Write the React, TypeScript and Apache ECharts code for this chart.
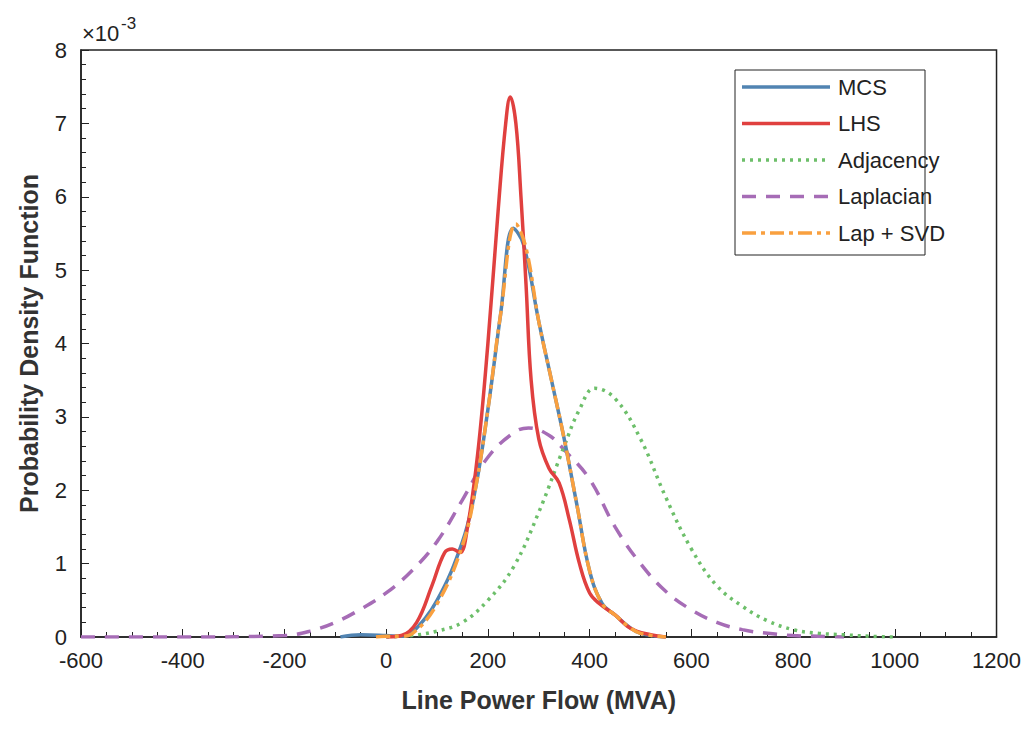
import React, { useEffect, useRef } from "react";
import * as echarts from "echarts";

const mcs: [number, number][] = [[-90,0],[-50,0.03],[0,0.02],[30,0.01],[50,0.05],[100,0.5],[150,1.3],[175,2.0],[200,3.1],[225,4.4],[250,5.57],[270,5.35],[300,4.3],[325,3.5],[350,2.7],[375,1.8],[400,0.9],[425,0.45],[450,0.3],[475,0.15],[500,0.05],[550,0]];
const lhs: [number, number][] = [[0,0],[30,0.02],[60,0.2],[90,0.7],[115,1.15],[130,1.2],[145,1.15],[160,1.5],[180,2.5],[200,4.0],[220,5.8],[235,7.0],[244,7.36],[255,7.0],[265,6.0],[275,4.8],[285,3.5],[300,2.7],[320,2.3],[340,2.1],[360,1.6],[380,1.0],[400,0.6],[420,0.45],[450,0.3],[480,0.12],[520,0.03],[550,0]];
const adjacency: [number, number][] = [[0,0],[50,0.02],[100,0.08],[150,0.2],[200,0.5],[250,0.95],[300,1.7],[350,2.6],[380,3.1],[410,3.39],[450,3.25],[500,2.7],[550,1.9],[600,1.2],[650,0.7],[700,0.42],[750,0.22],[800,0.1],[850,0.05],[900,0.03],[950,0.01],[1000,0]];
const laplacian: [number, number][] = [[-600,0],[-400,0],[-200,0.02],[-150,0.08],[-100,0.2],[-50,0.38],[0,0.6],[50,0.9],[100,1.3],[150,1.87],[200,2.45],[250,2.78],[280,2.85],[320,2.75],[350,2.55],[400,2.15],[450,1.5],[500,1.0],[550,0.62],[600,0.37],[650,0.2],[700,0.1],[750,0.05],[800,0.02],[850,0.01],[900,0]];
const lapSvd: [number, number][] = [[-20,0],[0,0.01],[30,0.01],[50,0.04],[100,0.45],[150,1.25],[175,2.0],[200,3.1],[225,4.4],[255,5.63],[275,5.3],[300,4.3],[325,3.5],[350,2.7],[375,1.8],[400,0.9],[425,0.45],[450,0.3],[475,0.15],[500,0.05],[550,0]];

const legendNames = ["MCS", "LHS", "Adjacency", "Laplacian", "Lap + SVD"];
const font = "Liberation Sans, Arial, sans-serif";

export default function App() {
  const ref = useRef<HTMLDivElement>(null);
  useEffect(() => {
    const chart = echarts.init(ref.current!, undefined, { renderer: "svg" });
    const styles: Record<string, { color: string; type: any }> = {
      "MCS": { color: "#5184B2", type: "solid" },
      "LHS": { color: "#E0403F", type: "solid" },
      "Adjacency": { color: "#6DBF6A", type: [3, 5] },
      "Laplacian": { color: "#A66CB6", type: [14, 10] },
      "Lap + SVD": { color: "#F9A03F", type: [14, 5, 4, 5] },
    };
    const mk = (name: string, data: [number, number][]) => ({
      name, type: "line", data, smooth: 0.4, showSymbol: false, symbol: "none",
      lineStyle: { color: styles[name].color, width: 3.5, type: styles[name].type },
      itemStyle: { color: styles[name].color },
    });
    const legendG: any[] = [
      { type: "rect", shape: { x: 727, y: 62, width: 190, height: 185 }, style: { fill: "#fff", stroke: "#222", lineWidth: 1 }, z: 100 },
    ];
    legendNames.forEach((n, i) => {
      const y = 79 + i * 36.5;
      legendG.push({ type: "line", shape: { x1: 734, y1: y, x2: 822, y2: y }, style: { stroke: styles[n].color, lineWidth: 3.5, lineDash: styles[n].type === "solid" ? null : styles[n].type }, z: 101 });
      legendG.push({ type: "text", x: 830, y, style: { text: n, fontFamily: font, fontSize: 22, fill: "#222", verticalAlign: "middle" }, z: 101 });
    });
    chart.setOption({
      animation: false,
      backgroundColor: "#fff",
      grid: { left: 72, right: 27, top: 42, bottom: 89, show: true, borderColor: "#222", borderWidth: 1.5 },
      xAxis: {
        type: "value", min: -600, max: 1200, interval: 200,
        name: "Line Power Flow (MVA)", nameLocation: "middle", nameGap: 50,
        nameTextStyle: { fontFamily: font, fontSize: 25, fontWeight: "bold", color: "#333" },
        axisLine: { onZero: false, lineStyle: { color: "#222", width: 1.5 } },
        axisTick: { inside: true, length: 8, lineStyle: { color: "#222" } },
        minorTick: { show: true, splitNumber: 4, length: 5, lineStyle: { color: "#222" } },
        axisLabel: { fontFamily: font, fontSize: 22, color: "#222", margin: 12, formatter: (v: number) => String(v) },
        splitLine: { show: false },
      },
      yAxis: {
        type: "value", min: 0, max: 8, interval: 1,
        name: "Probability Density Function", nameLocation: "middle", nameGap: 40,
        nameTextStyle: { fontFamily: font, fontSize: 25, fontWeight: "bold", color: "#333" },
        axisLine: { onZero: false, lineStyle: { color: "#222", width: 1.5 } },
        axisTick: { inside: true, length: 8, lineStyle: { color: "#222" } },
        minorTick: { show: true, splitNumber: 5, length: 5, lineStyle: { color: "#222" } },
        axisLabel: { fontFamily: font, fontSize: 22, color: "#222", margin: 14 },
        splitLine: { show: false },
      },
      graphic: [
        { type: "text", left: 74, top: 14, style: { text: "×10", fontFamily: font, fontSize: 22, fill: "#222" } },
        { type: "text", left: 113, top: 7, style: { text: "-3", fontFamily: font, fontSize: 17, fill: "#222" } },
        ...legendG,
      ],
      series: [
        mk("Laplacian", laplacian),
        mk("Adjacency", adjacency),
        mk("MCS", mcs),
        mk("LHS", lhs),
        mk("Lap + SVD", lapSvd),
      ],
    });
    return () => chart.dispose();
  }, []);
  return <div ref={ref} style={{ width: 1016, height: 718 }} />;
}
